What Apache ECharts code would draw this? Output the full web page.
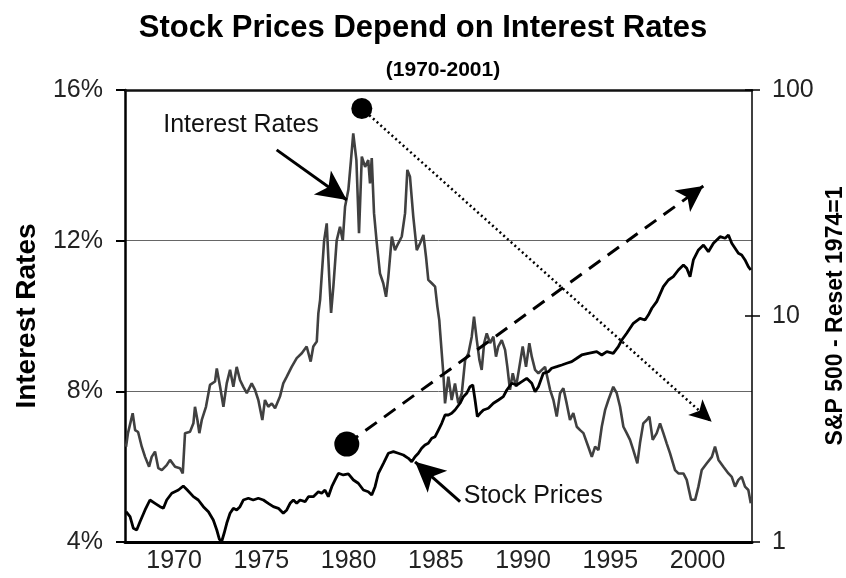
<!DOCTYPE html>
<html>
<head>
<meta charset="utf-8">
<script src="https://cdn.jsdelivr.net/npm/echarts@6/dist/echarts.min.js"></script>
<style>
  html, body { margin: 0; padding: 0; background: #fff; }
  #chart { width: 846px; height: 578px; }
</style>
</head>
<body>
<div id="chart"></div>
<script>
// year labels shown under the axis
const yearLabels = [1970, 1975, 1980, 1985, 1990, 1995, 2000];

// interest rates, % (year, rate)
const interestRates = [
  [1967.25, 6.53], [1967.36, 6.89], [1967.63, 7.42], [1967.77, 6.97], [1967.94, 6.92],
  [1968.15, 6.53], [1968.34, 6.26], [1968.57, 6.00], [1968.72, 6.26], [1968.91, 6.40],
  [1969.10, 5.96], [1969.30, 5.91], [1969.58, 6.04], [1969.77, 6.18], [1970.06, 6.00],
  [1970.34, 5.96], [1970.50, 5.82], [1970.63, 6.89], [1970.92, 6.93], [1971.11, 7.15],
  [1971.20, 7.59], [1971.34, 7.24], [1971.45, 6.89], [1971.59, 7.24], [1971.83, 7.59],
  [1972.06, 8.17], [1972.35, 8.26], [1972.45, 8.61], [1972.64, 8.12], [1972.83, 7.59],
  [1973.02, 8.21], [1973.21, 8.57], [1973.40, 8.12], [1973.59, 8.65], [1973.78, 8.30],
  [1973.97, 8.12], [1974.17, 7.95], [1974.45, 8.21], [1974.64, 8.04], [1974.83, 7.77],
  [1975.06, 7.24], [1975.21, 7.77], [1975.40, 7.59], [1975.60, 7.68], [1975.79, 7.55],
  [1976.07, 7.86], [1976.26, 8.21], [1976.46, 8.39], [1976.74, 8.65], [1977.03, 8.88],
  [1977.32, 9.01], [1977.60, 9.19], [1977.83, 8.79], [1977.98, 9.19], [1978.18, 9.32],
  [1978.27, 10.07], [1978.37, 10.43], [1978.42, 10.78], [1978.60, 12.00], [1978.75, 12.46],
  [1978.90, 10.96], [1979.00, 10.08], [1979.13, 10.78], [1979.32, 12.00], [1979.51, 12.37],
  [1979.67, 12.00], [1979.80, 12.90], [1979.99, 13.35], [1980.14, 14.14], [1980.27, 14.85],
  [1980.45, 14.14], [1980.60, 12.20], [1980.76, 14.23], [1980.95, 13.96], [1981.13, 14.14],
  [1981.23, 13.52], [1981.33, 14.19], [1981.46, 12.73], [1981.62, 11.93], [1981.80, 11.13],
  [1981.99, 10.87], [1982.15, 10.51], [1982.28, 11.04], [1982.48, 12.11], [1982.66, 11.75],
  [1982.85, 11.93], [1983.05, 12.11], [1983.24, 12.73], [1983.37, 13.88], [1983.52, 13.70],
  [1983.71, 12.64], [1983.91, 11.75], [1984.10, 11.93], [1984.29, 12.15], [1984.44, 11.57],
  [1984.57, 10.96], [1984.77, 10.87], [1984.96, 10.78], [1985.09, 10.25], [1985.20, 9.89],
  [1985.24, 9.63], [1985.43, 8.48], [1985.53, 7.68], [1985.72, 8.39], [1985.91, 7.77],
  [1986.10, 8.21], [1986.29, 7.68], [1986.49, 7.95], [1986.68, 8.83], [1986.87, 9.01],
  [1987.06, 9.45], [1987.19, 9.98], [1987.35, 9.36], [1987.50, 8.83], [1987.63, 8.57],
  [1987.77, 9.28], [1987.92, 9.54], [1988.11, 9.28], [1988.30, 9.45], [1988.45, 8.92],
  [1988.58, 9.19], [1988.78, 9.36], [1988.97, 9.10], [1989.10, 8.65], [1989.25, 8.04],
  [1989.41, 8.48], [1989.60, 8.12], [1989.79, 8.65], [1989.98, 9.19], [1990.17, 8.65],
  [1990.36, 9.28], [1990.50, 8.92], [1990.69, 8.57], [1990.88, 8.48], [1991.26, 8.65],
  [1991.55, 8.04], [1991.74, 7.77], [1991.93, 7.33], [1992.12, 7.95], [1992.31, 8.08],
  [1992.50, 7.68], [1992.69, 7.24], [1992.88, 7.42], [1993.08, 7.06], [1993.27, 6.97],
  [1993.46, 6.89], [1993.74, 6.53], [1993.94, 6.26], [1994.13, 6.53], [1994.32, 6.44],
  [1994.51, 7.06], [1994.70, 7.50], [1994.89, 7.77], [1995.17, 8.12], [1995.37, 7.95],
  [1995.56, 7.59], [1995.75, 7.06], [1995.94, 6.89], [1996.13, 6.71], [1996.32, 6.44],
  [1996.55, 6.09], [1996.70, 6.62], [1996.89, 7.15], [1997.09, 7.24], [1997.24, 7.33],
  [1997.43, 6.71], [1997.66, 6.89], [1997.85, 7.15], [1998.04, 6.89], [1998.23, 6.62],
  [1998.42, 6.36], [1998.71, 5.91], [1998.90, 5.82], [1999.19, 5.82], [1999.38, 5.65],
  [1999.63, 5.12], [1999.86, 5.12], [2000.05, 5.47], [2000.24, 5.91], [2000.53, 6.09],
  [2000.82, 6.26], [2001.00, 6.53], [2001.20, 6.18], [2001.48, 6.00], [2001.77, 5.82],
  [2001.96, 5.73], [2002.15, 5.47], [2002.34, 5.65], [2002.53, 5.73], [2002.72, 5.47],
  [2002.91, 5.38], [2003.05, 5.03]
];

// S&P 500, reset 1974 = 1 (year, index)
const stockPrices = [
  [1967.25, 1.361], [1967.48, 1.294], [1967.67, 1.150], [1967.86, 1.130], [1968.05, 1.230],
  [1968.34, 1.386], [1968.62, 1.534], [1968.91, 1.483], [1969.20, 1.433], [1969.39, 1.409],
  [1969.58, 1.534], [1969.87, 1.643], [1970.25, 1.698], [1970.53, 1.769], [1970.76, 1.698],
  [1971.11, 1.587], [1971.39, 1.534], [1971.68, 1.433], [1971.97, 1.361], [1972.25, 1.251],
  [1972.45, 1.130], [1972.60, 1.028], [1972.73, 1.005], [1972.87, 1.093], [1973.02, 1.210],
  [1973.21, 1.340], [1973.40, 1.409], [1973.59, 1.386], [1973.78, 1.433], [1973.97, 1.534],
  [1974.26, 1.561], [1974.54, 1.534], [1974.83, 1.561], [1975.12, 1.534], [1975.40, 1.483],
  [1975.69, 1.433], [1975.98, 1.409], [1976.26, 1.340], [1976.46, 1.386], [1976.65, 1.483],
  [1976.84, 1.534], [1977.03, 1.483], [1977.22, 1.534], [1977.51, 1.508], [1977.70, 1.587],
  [1977.98, 1.587], [1978.27, 1.669], [1978.46, 1.643], [1978.65, 1.698], [1978.84, 1.587],
  [1979.04, 1.757], [1979.23, 1.881], [1979.42, 2.014], [1979.70, 1.980], [1979.99, 2.000],
  [1980.28, 1.881], [1980.56, 1.819], [1980.85, 1.698], [1981.13, 1.669], [1981.33, 1.614],
  [1981.52, 1.757], [1981.71, 2.014], [1982.00, 2.230], [1982.28, 2.469], [1982.57, 2.510],
  [1982.85, 2.469], [1983.14, 2.427], [1983.43, 2.346], [1983.62, 2.266], [1983.81, 2.385],
  [1984.00, 2.469], [1984.19, 2.598], [1984.38, 2.687], [1984.57, 2.734], [1984.77, 2.877],
  [1984.96, 2.924], [1985.15, 3.130], [1985.34, 3.351], [1985.53, 3.648], [1985.72, 3.648],
  [1985.91, 3.711], [1986.10, 3.838], [1986.39, 4.110], [1986.58, 4.395], [1986.77, 4.550],
  [1986.96, 4.866], [1987.12, 4.951], [1987.25, 4.250], [1987.38, 3.585], [1987.54, 3.711],
  [1987.73, 3.838], [1988.01, 3.905], [1988.30, 4.110], [1988.59, 4.250], [1988.87, 4.395],
  [1989.07, 4.706], [1989.35, 5.038], [1989.64, 4.951], [1989.93, 5.121], [1990.21, 5.302],
  [1990.50, 5.038], [1990.69, 4.625], [1990.88, 4.866], [1991.16, 5.578], [1991.45, 5.670],
  [1991.64, 5.870], [1991.93, 5.967], [1992.22, 6.071], [1992.50, 6.177], [1992.79, 6.279],
  [1993.08, 6.500], [1993.36, 6.723], [1993.74, 6.839], [1994.22, 6.953], [1994.51, 6.723],
  [1994.80, 6.953], [1995.17, 6.839], [1995.46, 7.316], [1995.66, 7.831], [1995.94, 8.386],
  [1996.13, 8.823], [1996.32, 9.284], [1996.70, 9.768], [1996.99, 9.601], [1997.18, 10.10],
  [1997.38, 10.82], [1997.66, 11.57], [1998.04, 13.48], [1998.33, 14.43], [1998.61, 14.93],
  [1998.90, 15.98], [1999.19, 16.82], [1999.38, 16.26], [1999.57, 14.93], [1999.76, 17.70],
  [2000.05, 19.60], [2000.34, 20.62], [2000.62, 19.26], [2000.91, 20.98], [2001.29, 22.44],
  [2001.58, 22.08], [2001.77, 22.83], [2001.96, 20.98], [2002.15, 19.94], [2002.34, 18.95],
  [2002.53, 18.62], [2002.72, 17.70], [2002.91, 16.53], [2003.05, 15.98]
];

// annotation anchors, in (year, interest rate) units
const topDot = [1980.76, 15.51];
const dottedArrowEnd = [2000.81, 7.19];
const bottomDot = [1979.90, 6.60];
const dashedArrowEnd = [2000.33, 13.45];
const rateArrow = [[1975.88, 14.41], [1979.90, 13.08]];
const stockArrow = [[1986.39, 5.07], [1983.81, 6.13]];
const rateLabelAt = [1973.84, 15.07];
const stockLabelAt = [1986.60, 5.22];

const FONT = 'Liberation Sans, Arial, sans-serif';
const chart = echarts.init(document.getElementById('chart'));

const option = {
  backgroundColor: '#fff',
  animation: false,
  textStyle: { fontFamily: FONT },
  title: [
    {
      text: 'Stock Prices Depend on Interest Rates',
      left: 'center',
      top: 8,
      textStyle: { fontSize: 31, fontWeight: 'bold', color: '#000', fontFamily: FONT }
    },
    {
      text: '(1970-2001)',
      left: 438,
      textAlign: 'center',
      top: 55,
      textStyle: { fontSize: 21, fontWeight: 'bold', color: '#000', fontFamily: FONT }
    }
  ],
  grid: { left: 125, right: 94, top: 90, bottom: 36, outerBoundsMode: 'none', containLabel: false },
  xAxis: [
    {
      type: 'value',
      min: 1967.19,
      max: 2003.12,
      axisLine: { lineStyle: { color: '#000', width: 3 } },
      axisTick: { show: false },
      splitLine: { show: false },
      axisLabel: {
        customValues: yearLabels,
        formatter: function (v) { return String(v); },
        fontSize: 25,
        color: '#222',
        margin: 7,
        fontFamily: FONT
      }
    },
    {
      type: 'value',
      position: 'top',
      min: 1967.19,
      max: 2003.12,
      axisLine: { lineStyle: { color: '#111', width: 2.5 } },
      axisTick: { show: false },
      axisLabel: { show: false },
      splitLine: { show: false }
    }
  ],
  yAxis: [
    {
      type: 'value',
      min: 4,
      max: 16,
      interval: 4,
      name: 'Interest Rates',
      nameLocation: 'middle',
      nameGap: 84,
      nameRotate: 90,
      nameTextStyle: { fontSize: 28, fontWeight: 'bold', color: '#000', fontFamily: FONT },
      axisLine: { show: true, lineStyle: { color: '#000', width: 2.5 } },
      axisTick: { show: true, length: 9, lineStyle: { color: '#000', width: 2 } },
      axisLabel: { formatter: '{value}%', fontSize: 25, color: '#222', margin: 22, fontFamily: FONT },
      splitLine: { show: true, lineStyle: { color: '#666', width: 1 } }
    },
    {
      type: 'log',
      logBase: 10,
      min: 1,
      max: 100,
      position: 'right',
      name: 'S&P 500 - Reset 1974=1',
      nameLocation: 'middle',
      nameGap: 72,
      nameRotate: 90,
      nameTextStyle: { fontSize: 23, fontWeight: 'bold', color: '#000', fontFamily: FONT },
      axisLine: { show: true, lineStyle: { color: '#000', width: 1.5 } },
      axisTick: { show: true, length: 8, lineStyle: { color: '#000', width: 1.5 } },
      axisLabel: { fontSize: 25, color: '#222', margin: 20, fontFamily: FONT },
      splitLine: { show: false }
    },
    {
      // inner half of the crossing ticks on the right axis
      type: 'log',
      logBase: 10,
      min: 1,
      max: 100,
      position: 'right',
      axisLine: { show: false },
      axisTick: { show: true, inside: true, length: 7, lineStyle: { color: '#000', width: 1.5 } },
      axisLabel: { show: false },
      splitLine: { show: false }
    }
  ],
  series: [
    {
      name: 'Interest Rates',
      type: 'line',
      xAxisIndex: 0,
      yAxisIndex: 0,
      data: interestRates,
      showSymbol: false,
      symbol: 'none',
      lineStyle: { color: '#404040', width: 2.6 },
      z: 3,
      markLine: {
        silent: true,
        animation: false,
        label: { show: false },
        symbol: ['none', 'arrow'],
        data: [
          [
            { coord: topDot, lineStyle: { type: [2, 3], color: '#000', width: 2.5 } },
            { coord: dottedArrowEnd, symbolSize: [16, 22] }
          ],
          [
            { coord: bottomDot, lineStyle: { type: [14, 9], color: '#000', width: 3 } },
            { coord: dashedArrowEnd, symbolSize: [20, 26] }
          ],
          [
            { coord: rateArrow[0], lineStyle: { type: 'solid', color: '#000', width: 3 } },
            { coord: rateArrow[1], symbolSize: [22, 30] }
          ],
          [
            { coord: stockArrow[0], lineStyle: { type: 'solid', color: '#000', width: 3 } },
            { coord: stockArrow[1], symbolSize: [22, 30] }
          ]
        ]
      },
      markPoint: {
        silent: true,
        animation: false,
        data: [
          { coord: topDot, symbol: 'circle', symbolSize: 21, itemStyle: { color: '#000' }, label: { show: false } },
          { coord: bottomDot, symbol: 'circle', symbolSize: 25, itemStyle: { color: '#000' }, label: { show: false } },
          {
            coord: rateLabelAt, symbol: 'circle', symbolSize: 0,
            label: { show: true, position: 'inside', formatter: 'Interest Rates', fontSize: 25, color: '#111', fontFamily: FONT }
          },
          {
            coord: stockLabelAt, symbol: 'circle', symbolSize: 0,
            label: { show: true, position: 'right', distance: 0, formatter: 'Stock Prices', fontSize: 25, color: '#111', fontFamily: FONT }
          }
        ]
      }
    },
    {
      name: 'Stock Prices',
      type: 'line',
      xAxisIndex: 0,
      yAxisIndex: 1,
      data: stockPrices,
      showSymbol: false,
      symbol: 'none',
      lineStyle: { color: '#000', width: 2.8 },
      z: 4
    }
  ]
};

chart.setOption(option);
</script>
</body>
</html>
